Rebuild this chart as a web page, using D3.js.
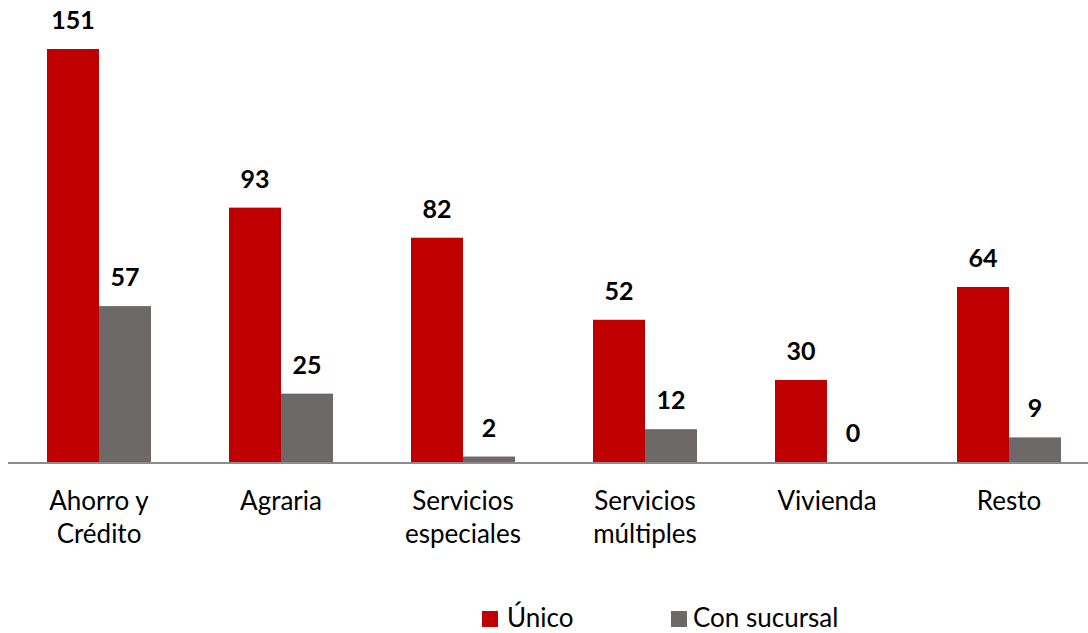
<!DOCTYPE html>
<html>
<head>
<meta charset="utf-8">
<script src="https://cdn.jsdelivr.net/npm/d3@7"></script>
<style>
  body { margin: 0; background: #fff; }
  text { font-family: Lato, "Open Sans", sans-serif; }
</style>
</head>
<body>
<div id="chart"></div>
<script>
// data
var categories = [["Ahorro y", "Crédito"], ["Agraria"], ["Servicios", "especiales"], ["Servicios", "múltiples"], ["Vivienda"], ["Resto"]];
var seriesNames = ["Único", "Con sucursal"];
var unico = [151, 93, 82, 52, 30, 64];
var conSucursal = [57, 25, 2, 12, 0, 9];
var colors = ["#C00000", "#6D6968"];

var width = 1088, height = 633;
var svg = d3.select("#chart").append("svg")
    .attr("width", width)
    .attr("height", height);

var keys = categories.map(function(c) { return c.join(" "); });
var rows = keys.map(function(k, i) { return { key: k, lines: categories[i], values: [unico[i], conSucursal[i]] }; });

var x0 = d3.scaleBand().domain(keys).range([8, 1100]);
var x1 = d3.scaleBand().domain(seriesNames).range([0, x0.bandwidth()]).paddingOuter(0.75);
var y = d3.scaleLinear().domain([0, 151]).range([462, 49]);

var groups = svg.selectAll("g.cat")
    .data(rows)
    .enter().append("g")
    .attr("class", "cat")
    .attr("transform", function(d) { return "translate(" + x0(d.key) + ",0)"; });

groups.selectAll("rect")
    .data(function(d) { return d.values.map(function(v, i) { return { name: seriesNames[i], value: v, i: i }; }); })
    .enter().append("rect")
    .attr("x", function(d) { return x1(d.name); })
    .attr("width", x1.bandwidth())
    .attr("y", function(d) { return y(d.value); })
    .attr("height", function(d) { return y(0) - y(d.value); })
    .attr("fill", function(d) { return colors[d.i]; });

groups.selectAll("text.val")
    .data(function(d) { return d.values.map(function(v, i) { return { name: seriesNames[i], value: v }; }); })
    .enter().append("text")
    .attr("class", "val")
    .attr("x", function(d) { return x1(d.name) + x1.bandwidth() / 2; })
    .attr("y", function(d) { return y(d.value) - 20; })
    .attr("text-anchor", "middle")
    .style("font-size", "25px")
    .style("font-weight", "bold")
    .attr("fill", "#000")
    .text(function(d) { return d.value; });

// axis line
svg.append("line")
    .attr("x1", 8).attr("x2", width)
    .attr("y1", y(0) + 1).attr("y2", y(0) + 1)
    .attr("stroke", "#8C8C8C")
    .attr("stroke-width", 2);

// category labels
var labels = groups.append("text")
    .attr("text-anchor", "middle")
    .style("font-size", "26px")
    .attr("fill", "#000");
labels.selectAll("tspan")
    .data(function(d) { return d.lines; })
    .enter().append("tspan")
    .attr("x", x0.bandwidth() / 2)
    .attr("y", function(d, i) { return 510 + i * 33; })
    .text(function(d) { return d; });

// legend
var legendX = [482, 671];
var legend = svg.selectAll("g.legend")
    .data(seriesNames)
    .enter().append("g")
    .attr("class", "legend")
    .attr("transform", function(d, i) { return "translate(" + legendX[i] + ",611)"; });
legend.append("rect")
    .attr("width", 16).attr("height", 16)
    .attr("fill", function(d, i) { return colors[i]; });
legend.append("text")
    .attr("x", function(d, i) { return i === 0 ? 25 : 22; })
    .attr("y", 16)
    .style("font-size", "26px")
    .attr("fill", "#000")
    .text(function(d) { return d; });
</script>
</body>
</html>
